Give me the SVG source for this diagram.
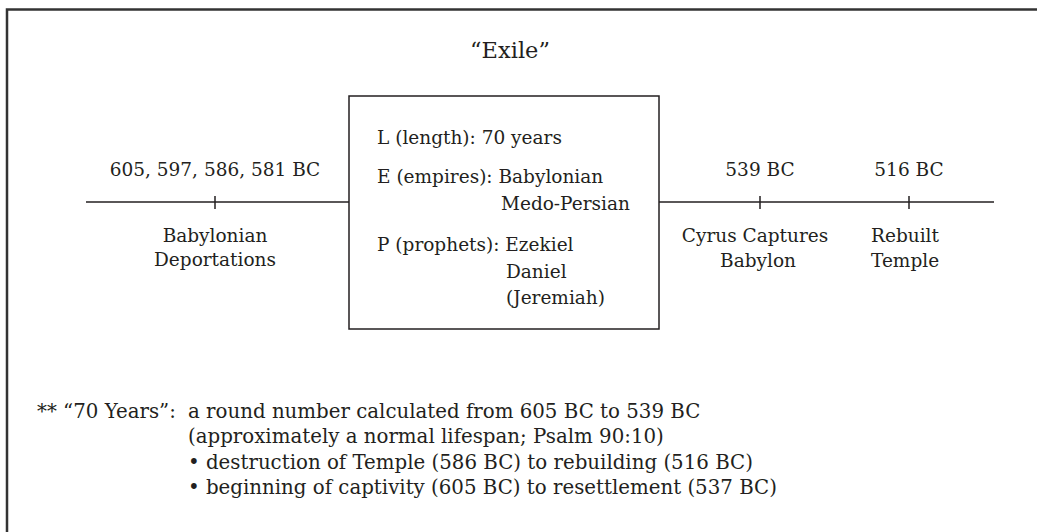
<svg xmlns="http://www.w3.org/2000/svg" width="1037" height="532" viewBox="0 0 1037 532">
<style>
text{font-family:"DejaVu Serif","Liberation Serif",serif;font-size:18.5px;fill:#231f20}
.c{text-anchor:middle}
.n{font-size:19.8px}
.ln{stroke:#231f20;stroke-width:1.5;fill:none}
</style>
<rect width="1037" height="532" fill="#fff"/>
<path d="M7,540 V9.5 H1045" fill="none" stroke="#333" stroke-width="2.5"/>
<text class="c" x="510" y="58" style="font-size:22.5px">“Exile”</text>
<g id="connectors">
<line class="ln" x1="86" y1="202" x2="349" y2="202"/>
<line class="ln" x1="659" y1="202" x2="994" y2="202"/>
</g>
<g id="deportations">
<line class="ln" x1="215" y1="196" x2="215" y2="209"/>
<text class="c" x="215" y="176">605, 597, 586, 581 BC</text>
<text class="c" x="215" y="242">Babylonian</text>
<text class="c" x="215" y="266">Deportations</text>
</g>
<g id="exile-box">
<rect x="349" y="96" width="310" height="233" class="ln"/>
<text x="377" y="144">L (length): 70 years</text>
<text x="377" y="183">E (empires): Babylonian</text>
<text x="501" y="210">Medo-Persian</text>
<text x="377" y="251">P (prophets): Ezekiel</text>
<text x="506" y="278">Daniel</text>
<text x="506" y="304">(Jeremiah)</text>
</g>
<g id="cyrus">
<line class="ln" x1="760" y1="196" x2="760" y2="209"/>
<text class="c" x="760" y="176">539 BC</text>
<text class="c" x="755" y="242">Cyrus Captures</text>
<text class="c" x="758" y="267">Babylon</text>
</g>
<g id="temple">
<line class="ln" x1="909" y1="196" x2="909" y2="209"/>
<text class="c" x="909" y="176">516 BC</text>
<text x="871" y="242">Rebuilt</text>
<text x="871" y="267">Temple</text>
</g>
<g id="note">
<text class="n" x="37" y="418">** “70 Years”: <tspan x="188">a round number calculated from 605 BC to 539 BC</tspan></text>
<text class="n" x="188" y="443">(approximately a normal lifespan; Psalm 90:10)</text>
<text class="n" x="188" y="469">• destruction of Temple (586 BC) to rebuilding (516 BC)</text>
<text class="n" x="188" y="494">• beginning of captivity (605 BC) to resettlement (537 BC)</text>
</g>
</svg>
